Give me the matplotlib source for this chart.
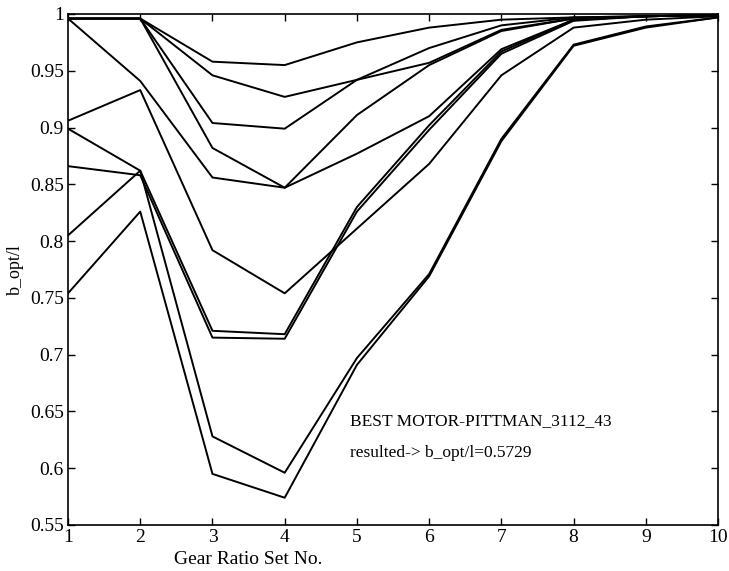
import matplotlib
matplotlib.use('Agg')
import matplotlib.pyplot as plt
import numpy as np
from matplotlib.ticker import FormatStrFormatter

plt.rcParams['font.family'] = 'Liberation Serif'

# gear ratio set numbers
gear_set = [1, 2, 3, 4, 5, 6, 7, 8, 9, 10]

# b_opt/l for each motor
motor_a = [0.996, 0.996, 0.958, 0.955, 0.975, 0.988, 0.995, 0.997, 0.998, 0.999]
motor_b = [0.996, 0.996, 0.946, 0.927, 0.942, 0.957, 0.986, 0.996, 0.998, 0.999]
motor_c = [0.996, 0.996, 0.904, 0.899, 0.942, 0.970, 0.990, 0.997, 0.998, 0.999]
motor_d = [0.996, 0.996, 0.882, 0.847, 0.911, 0.955, 0.985, 0.996, 0.998, 0.999]
motor_e = [0.996, 0.941, 0.856, 0.847, 0.877, 0.910, 0.969, 0.995, 0.998, 0.999]
motor_f = [0.906, 0.933, 0.792, 0.754, 0.811, 0.868, 0.946, 0.988, 0.995, 0.998]
motor_g = [0.899, 0.862, 0.721, 0.718, 0.830, 0.902, 0.967, 0.995, 0.998, 0.999]
motor_h = [0.866, 0.858, 0.715, 0.714, 0.826, 0.898, 0.965, 0.994, 0.998, 0.999]
motor_i = [0.805, 0.862, 0.628, 0.596, 0.697, 0.771, 0.890, 0.973, 0.989, 0.997]
motor_j = [0.754, 0.826, 0.595, 0.574, 0.691, 0.769, 0.888, 0.972, 0.988, 0.997]

motors = [motor_a, motor_b, motor_c, motor_d, motor_e,
          motor_f, motor_g, motor_h, motor_i, motor_j]

yticks = [0.55, 0.6, 0.65, 0.7, 0.75, 0.8, 0.85, 0.9, 0.95, 1]

fig = plt.figure(figsize=(7.29, 5.71), dpi=100)
ax = fig.add_axes([0.0933, 0.0806, 0.8917, 0.8949])

for m in motors:
    ax.plot(gear_set, m, color='black', linewidth=1.4)

ax.set_xlim(1, 10)
ax.set_ylim(0.55, 1)
ax.set_xticks(gear_set)
ax.set_yticks(yticks)
ax.yaxis.set_major_formatter(FormatStrFormatter('%g'))
ax.tick_params(direction='in', top=True, right=True, length=5,
               labelsize=14, width=1, pad=3)
for s in ax.spines.values():
    s.set_linewidth(1.2)

ax.set_xlabel('Gear Ratio Set No.', fontsize=14, labelpad=0)
ax.xaxis.set_label_coords(0.277, -0.05)
ax.set_ylabel('b_opt/l', fontsize=13, labelpad=4)

ax.text(4.9, 0.638, 'BEST MOTOR-PITTMAN_3112_43', fontsize=12.5)
ax.text(4.9, 0.610, 'resulted-> b_opt/l=0.5729', fontsize=12.5)

fig.savefig('out.png', dpi=100)
